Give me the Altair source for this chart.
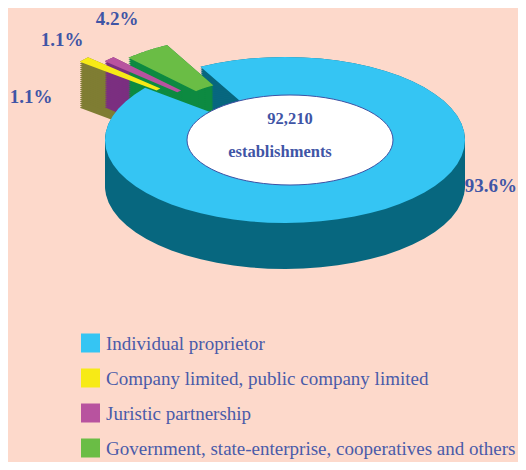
import altair as alt
import pandas as pd

# ---- data ----
categories = [
    "Individual proprietor",
    "Company limited, public company limited",
    "Juristic partnership",
    "Government, state-enterprise, cooperatives and others",
]
legend_labels = [
    " Individual proprietor",
    "Company limited, public company limited",
    "Juristic partnership",
    "Government, state-enterprise, cooperatives and others",
]
shares = [93.6, 1.1, 1.1, 4.2]
total_text = ["92,210", "establishments"]

# ---- styles ----
top_colors = ["#35C5F3", "#F7EA16", "#B8539F", "#6ABD45"]
side_colors = ["#07677F", "#7F7D33", "#7B2F80", "#0D8A41"]
explode = [0.0, 0.48, 0.38, 0.32]
BG = "#FDD9CB"
TXT = "#3F55A6"
LEG_TXT = "#4A5BA9"
FONT = "Liberation Serif"

CX, CY, RX, RY = 285, 140, 180, 83
DEPTH = 46
INNER = 0.45
N = 60
BASE = 242  # degrees, screen-clockwise from +x

W, H = 510, 454
xs = alt.Scale(domain=[8, 8 + W], range=[0, W], zero=False, nice=False)
ys = alt.Scale(domain=[8, 8 + H], range=[0, H], zero=False, nice=False)

df = pd.DataFrame({
    "cat": categories,
    "share": shares,
    "idx": list(range(len(categories))),
    "ex": explode,
})


def slice_geometry(chart):
    return (
        chart.transform_joinaggregate(total="sum(share)")
        .transform_window(cum="sum(share)", sort=[alt.SortField("idx")], frame=[None, 0])
        .transform_calculate(a1=f"{BASE} + 360 * datum.cum / datum.total")
        .transform_calculate(a0="datum.a1 - 360 * datum.share / datum.total")
        .transform_calculate(mid="(datum.a0 + datum.a1) / 2 * PI / 180")
        .transform_calculate(
            ox=f"{CX} + datum.ex * {RX} * cos(datum.mid)",
            oy=f"{CY} + datum.ex * {RY} * sin(datum.mid)",
        )
        .transform_calculate(k=f"sequence(0, {2 * N + 2})")
        .transform_flatten(["k"])
        .transform_calculate(
            t=f"(datum.k <= {N} ? datum.a0 + (datum.a1 - datum.a0) * datum.k / {N} : "
              f"datum.a1 - (datum.a1 - datum.a0) * (datum.k - {N} - 1) / {N}) * PI / 180",
            r=f"datum.k <= {N} ? 1 : {INNER}",
        )
        .transform_calculate(
            px=f"datum.ox + datum.r * {RX} * cos(datum.t)",
            py0=f"datum.oy + datum.r * {RY} * sin(datum.t)",
        )
    )


# extrusion (side walls)
sides = (
    slice_geometry(alt.Chart(df))
    .transform_calculate(d=f"sequence(0, {DEPTH + 1}, 2)")
    .transform_flatten(["d"])
    .transform_calculate(py="datum.py0 + datum.d", key="datum.cat + '_' + datum.d")
    .mark_line(interpolate="linear-closed", filled=True, strokeWidth=0)
    .encode(
        x=alt.X("px:Q", scale=xs, axis=None),
        y=alt.Y("py:Q", scale=ys, axis=None),
        order=alt.Order("k:Q"),
        detail="key:N",
        fill=alt.Fill("cat:N", scale=alt.Scale(domain=categories, range=side_colors), legend=None),
    )
)

# top faces
tops = (
    slice_geometry(alt.Chart(df))
    .transform_calculate(py="datum.py0")
    .mark_line(interpolate="linear-closed", filled=True, strokeWidth=0)
    .encode(
        x=alt.X("px:Q", scale=xs, axis=None),
        y=alt.Y("py:Q", scale=ys, axis=None),
        order=alt.Order("k:Q"),
        detail="cat:N",
        fill=alt.Fill("cat:N", scale=alt.Scale(domain=categories, range=top_colors), legend=None),
    )
)

# white centre hole
hole = (
    alt.Chart(alt.sequence(0, 365, 5, as_="deg"))
    .transform_calculate(
        hx="290 + 103 * cos(datum.deg * PI / 180)",
        hy="140 + 45 * sin(datum.deg * PI / 180)",
    )
    .mark_line(interpolate="linear-closed", filled=True, fill="white", stroke="#3F51A3", strokeWidth=1)
    .encode(
        x=alt.X("hx:Q", scale=xs, axis=None),
        y=alt.Y("hy:Q", scale=ys, axis=None),
        order=alt.Order("deg:Q"),
    )
)


def label(text, x, y, size, bold=True, color=TXT, align="center"):
    return (
        alt.Chart(pd.DataFrame({"t": [text]}))
        .mark_text(font=FONT, fontSize=size, fontWeight="bold" if bold else "normal",
                   color=color, align=align, baseline="middle")
        .encode(x=alt.value(x - 8), y=alt.value(y - 8), text="t:N")
    )


labels = [
    label(f"{shares[0]}%", 517, 186, 19, align="right"),
    label(f"{shares[3]}%", 117, 19, 19),
    label(f"{shares[2]}%", 62, 40, 19),
    label(f"{shares[1]}%", 31, 97, 19),
    label(total_text[0], 290, 119, 16.5),
    label(total_text[1], 280, 152, 16.5),
]

# legend
leg_df = pd.DataFrame({"cat": categories, "lab": legend_labels, "idx": list(range(len(categories)))})
leg_sq = (
    alt.Chart(leg_df)
    .transform_calculate(ly="343 + datum.idx * 35", lx="90.5")
    .mark_square(size=361, opacity=1)
    .encode(
        x=alt.X("lx:Q", scale=xs, axis=None),
        y=alt.Y("ly:Q", scale=ys, axis=None),
        fill=alt.Fill("cat:N", scale=alt.Scale(domain=categories, range=top_colors), legend=None),
    )
)
leg_txt = (
    alt.Chart(leg_df)
    .transform_calculate(ly="344 + datum.idx * 35", lx="106")
    .mark_text(font=FONT, fontSize=19, color=LEG_TXT, align="left", baseline="middle")
    .encode(
        x=alt.X("lx:Q", scale=xs, axis=None),
        y=alt.Y("ly:Q", scale=ys, axis=None),
        text="lab:N",
    )
)

chart = (
    alt.layer(sides, tops, hole, *labels, leg_sq, leg_txt)
    .resolve_scale(fill="independent")
    .properties(width=W, height=H, padding=0, autosize="none", background=BG)
    .configure_view(stroke=None)
)

chart.save("out.html", embed_options={"renderer": "svg", "actions": False})
